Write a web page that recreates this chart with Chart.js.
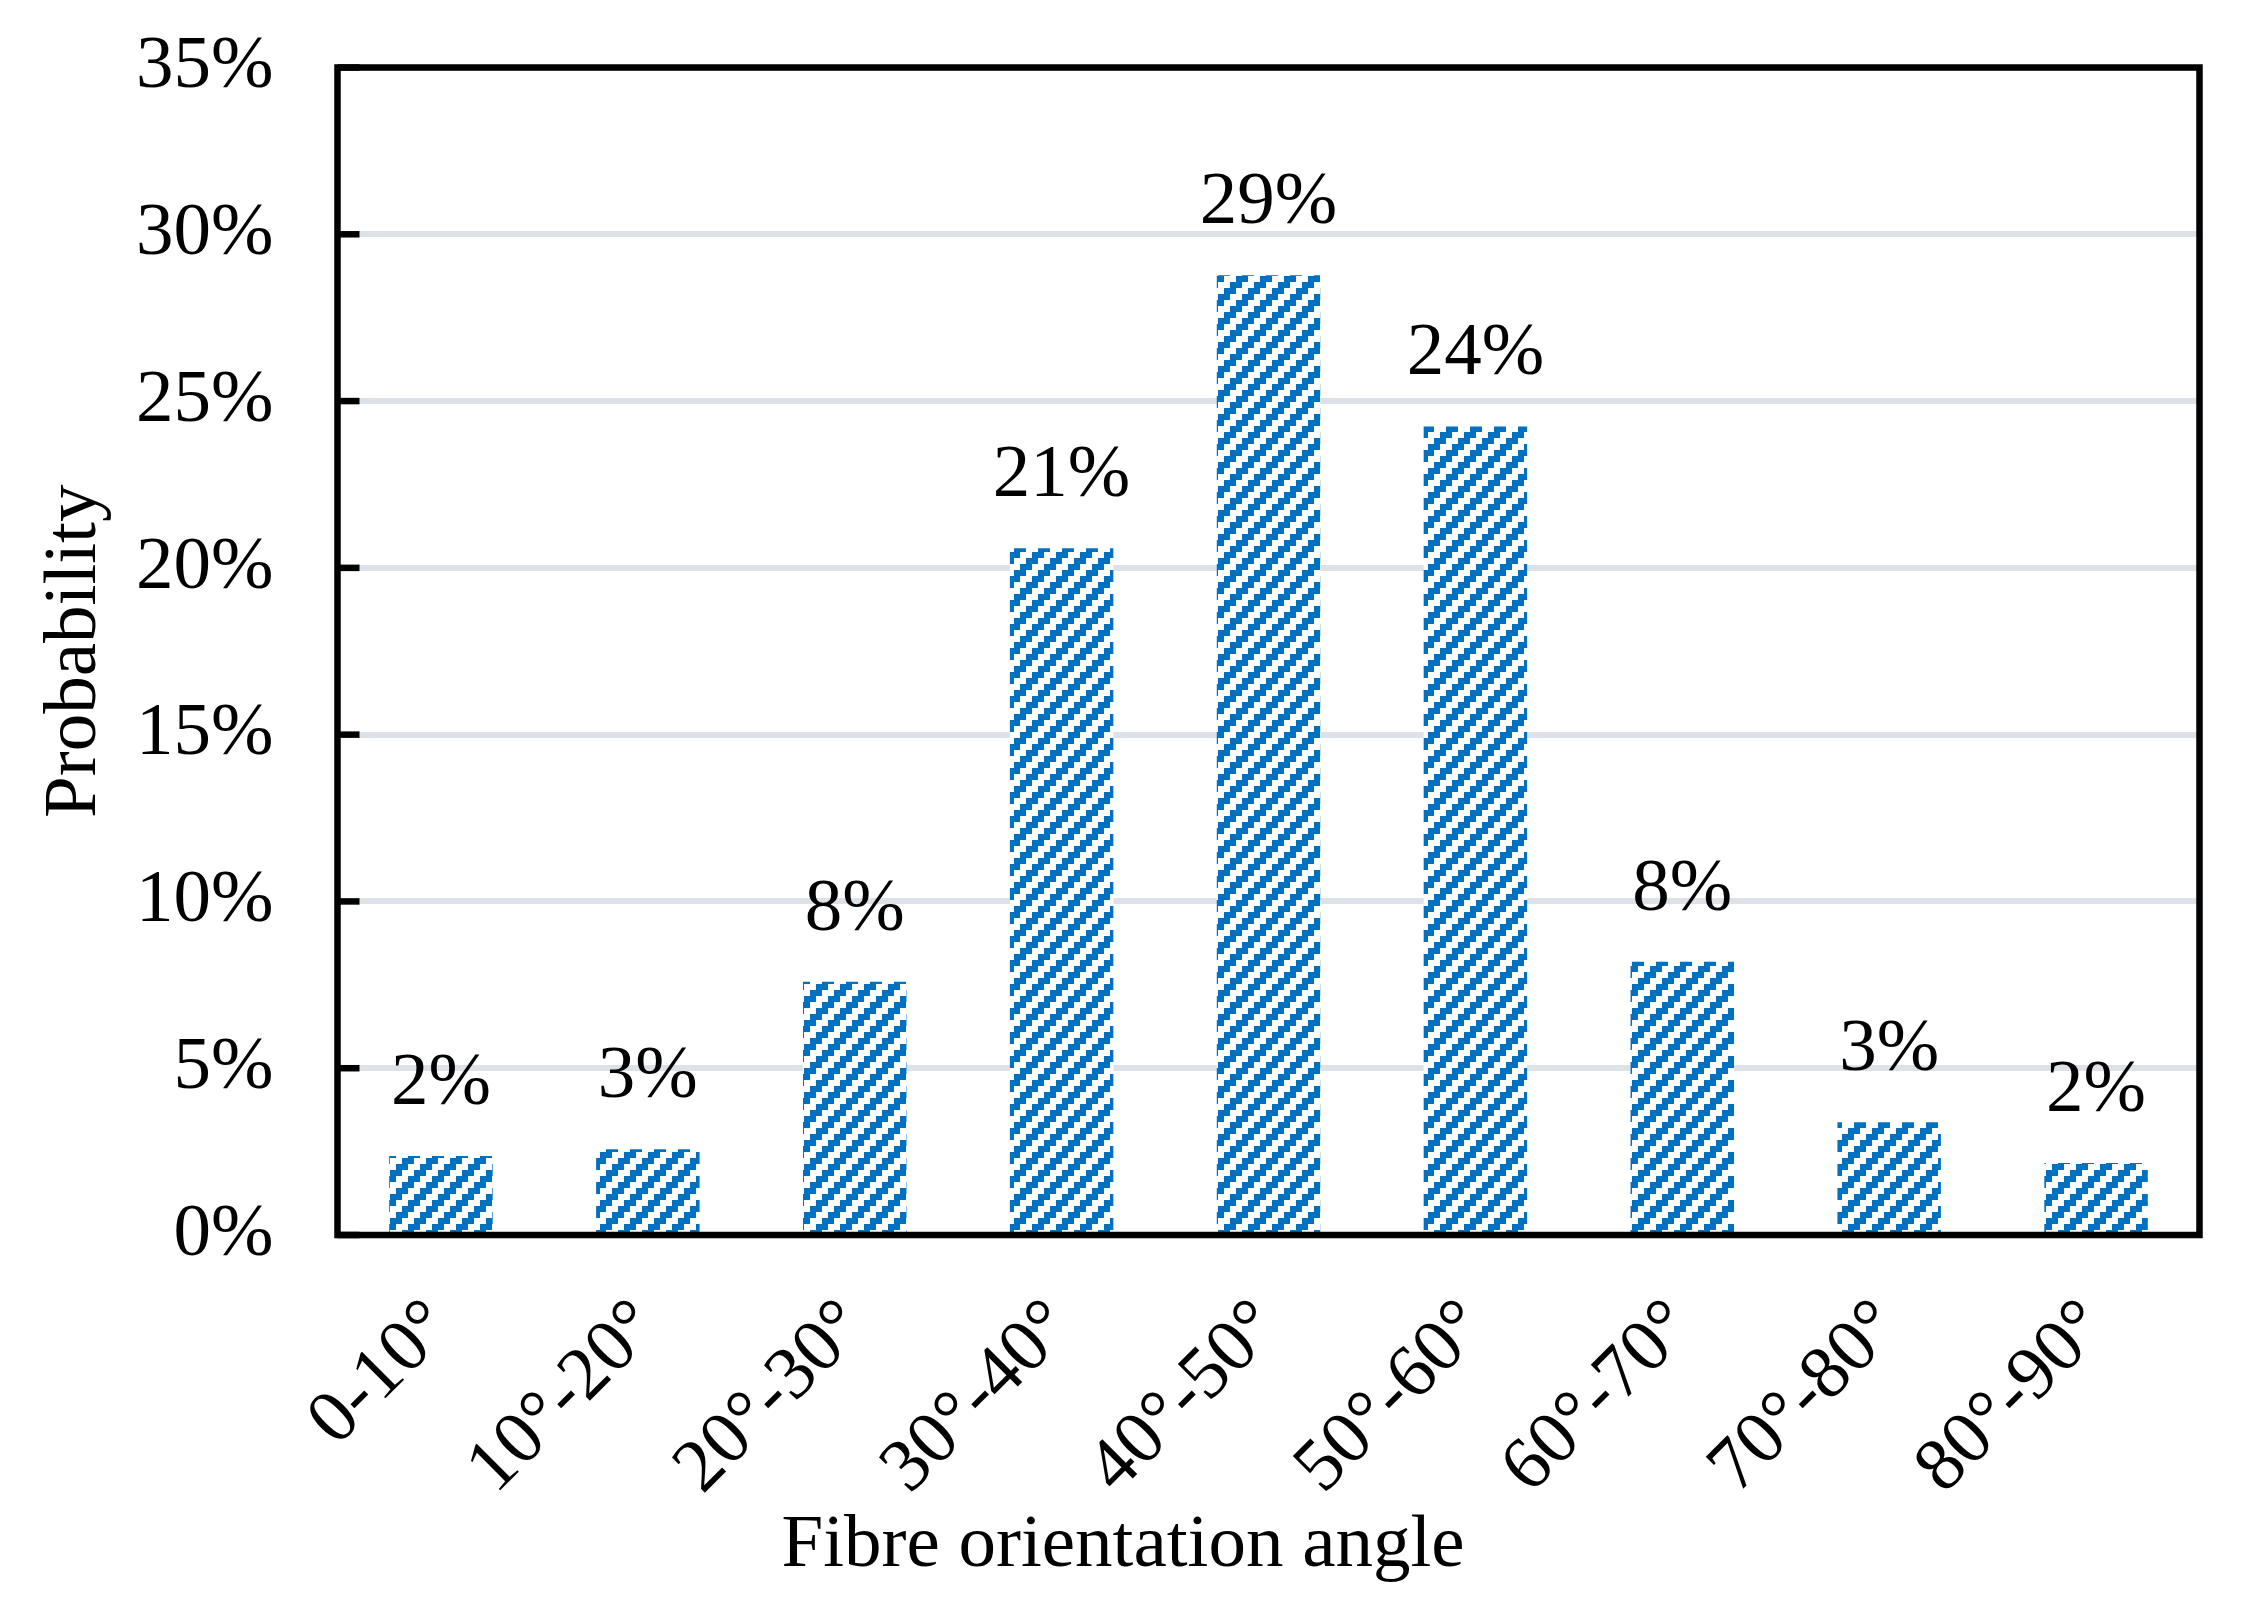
<!DOCTYPE html>
<html>
<head>
<meta charset="utf-8">
<script src="https://cdn.jsdelivr.net/npm/chart.js@4.4.1/dist/chart.umd.min.js"></script>
<style>
  html, body { margin:0; padding:0; background:#fff; }
  canvas { display:block; }
</style>
</head>
<body>
<canvas id="chart" width="2246" height="1612"></canvas>
<script>
// ── data ─────────────────────────────────────────────────────────────────────
const ANGLES      = ["0-10°","10°-20°","20°-30°","30°-40°","40°-50°","50°-60°","60°-70°","70°-80°","80°-90°"];
const PROBABILITY = [2.37, 2.57, 7.59, 20.59, 28.77, 24.24, 8.19, 3.38, 2.16];   // %
const Y_MIN = 0, Y_MAX = 35, Y_STEP = 5;

const FONT  = "'Liberation Serif', 'Times New Roman', serif";
const BLUE  = "#0070c0";
const GRID  = "#dde1e8";

// pixel-stepped "/" hatch, 4x4 cells of 6px
function hatch() {
  const c = document.createElement("canvas");
  const cell = 6, n = 4;
  c.width = c.height = cell*n;
  const g = c.getContext("2d");
  g.fillStyle = "#fff"; g.fillRect(0,0,c.width,c.height);
  g.fillStyle = BLUE;
  for (let r=0;r<n;r++) for (let k=0;k<n;k++) {
    if ((k+r)%n < 2) g.fillRect(k*cell, r*cell, cell, cell);
  }
  return g.createPattern(c, "repeat");
}

// frame + inward y ticks
const framePlugin = {
  id:"frame",
  afterDatasetsDraw(chart) {
    const {ctx, chartArea:a, scales:{y}} = chart;
    ctx.save();
    ctx.strokeStyle = "#000";
    ctx.lineWidth = 6.5;
    y.ticks.forEach((t,i) => {
      const py = y.getPixelForTick(i);
      ctx.beginPath(); ctx.moveTo(a.left, py); ctx.lineTo(a.left+22, py); ctx.stroke();
    });
    ctx.strokeRect(a.left, a.top, a.right-a.left, a.bottom-a.top);
    ctx.restore();
  }
};

// rounded % labels above bars
const valuePlugin = {
  id:"values",
  afterDatasetsDraw(chart) {
    const {ctx} = chart;
    const meta = chart.getDatasetMeta(0);
    ctx.save();
    ctx.font = `75px ${FONT}`;
    ctx.fillStyle = "#000";
    ctx.textAlign = "center";
    ctx.textBaseline = "alphabetic";
    meta.data.forEach((bar,i) => {
      ctx.fillText(Math.round(PROBABILITY[i]) + "%", bar.x, bar.y - 52);
    });
    ctx.restore();
  }
};

new Chart(document.getElementById("chart"), {
  type:"bar",
  data:{
    labels: ANGLES,
    datasets:[{ data: PROBABILITY, backgroundColor: hatch(), borderWidth:0, barPercentage:0.5, categoryPercentage:1, yAxisID:"y" }],
  },
  options:{
    responsive:false, animation:false, devicePixelRatio:1,
    layout:{ padding:{ left:0, right:0, top:67.5, bottom:0 } },
    plugins:{
      legend:{ display:false }, tooltip:{ enabled:false },
      title:{ display:true, position:"bottom", text:"Fibre orientation angle", color:"#000",
              font:{ family:FONT, size:75, weight:"normal", lineHeight:1.2 }, padding:{ top:0, bottom:21 } },
    },
    scales:{
      x:{
        grid:{ display:false }, border:{ display:false },
        ticks:{ color:"#000", font:{ family:FONT, size:75 }, maxRotation:45, minRotation:45, padding:40, autoSkip:false },
        afterFit: s => { s.height = 266; },
      },
      y:{
        min:Y_MIN, max:Y_MAX,
        grid:{ color:GRID, lineWidth:6, drawTicks:false },
        border:{ display:false },
        ticks:{ stepSize:Y_STEP, color:"#000", font:{ family:FONT, size:75 }, padding:64, callback:v => v + "%" },
        title:{ display:true, text:"Probability", color:"#000", font:{ family:FONT, size:75, lineHeight:1.2 }, padding:{ top:30, bottom:0 } },
        afterFit: s => { s.width = 337.5; s.paddingTop = 0; s.paddingBottom = 0; },
      },
      // empty right margin so the bottom title centres on the whole canvas
      yRight:{
        position:"right", display:true,
        grid:{ display:false }, border:{ display:false }, ticks:{ display:false },
        afterFit: s => { s.width = 46.5; },
      },
    },
  },
  plugins:[framePlugin, valuePlugin],
});
</script>
</body>
</html>
